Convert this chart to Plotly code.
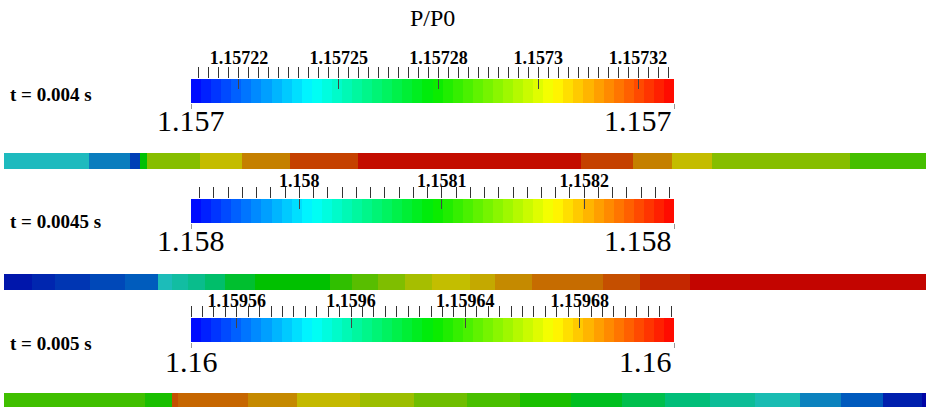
import numpy as np
import plotly.graph_objects as go

W, H = 926, 407

# ---- P/P0 legend for each instant -------------------------------------------
times = ["t = 0.004 s", "t = 0.0045 s", "t = 0.005 s"]
cb_min = [1.157208, 1.157924, 1.159544]
cb_max = [1.157329, 1.158263, 1.159713]
end_labels = ["1.157", "1.158", "1.16"]
major_vals = [
    [1.15722, 1.157245, 1.15727, 1.157295, 1.15732],
    [1.1580, 1.1581, 1.1582],
    [1.15956, 1.15960, 1.15964, 1.15968],
]
major_text = [
    ["1.15722", "1.15725", "1.15728", "1.1573", "1.15732"],
    ["1.158", "1.1581", "1.1582"],
    ["1.15956", "1.1596", "1.15964", "1.15968"],
]
minor_step = [2.5e-6, 1.0e-5, 4.0e-6]
n_bands = 48

# ---- P/P0 contour bands along the duct (x/L) --------------------------------
strip_a_x = [0, 0.0922, 0.1367, 0.1475, 0.1551, 0.2126, 0.2581, 0.3102, 0.3839,
             0.6258, 0.6822, 0.7245, 0.7679, 0.9176, 1.0]
strip_a_p = [1.157238, 1.157228, 1.157218, 1.157268, 1.157289, 1.157299, 1.157309,
             1.157319, 1.157327, 1.157319, 1.157309, 1.157299, 1.157289, 1.157279]

strip_b_x = [0, 0.0304, 0.0553, 0.0933, 0.1312, 0.1670, 0.1822, 0.1996, 0.2180,
             0.2397, 0.2722, 0.3536, 0.3774, 0.4056, 0.4349, 0.4642, 0.5054,
             0.5325, 0.5727, 0.6497, 0.6898, 0.7440, 1.0]
strip_b_p = [1.157934, 1.157941, 1.157948, 1.157956, 1.157965, 1.158012, 1.158026,
             1.158039, 1.158056, 1.158077, 1.158094, 1.158114, 1.158131, 1.158148,
             1.158165, 1.158178, 1.158188, 1.158202, 1.158216, 1.158229, 1.158246,
             1.158261]

strip_c_x = [0, 0.1529, 0.1822, 0.1887, 0.2646, 0.3178, 0.3861, 0.4447, 0.5022,
             0.5597, 0.6150, 0.6703, 0.7169, 0.7657, 0.8145, 0.8633, 0.9078,
             0.9534, 0.9957, 1.0]
strip_c_p = [1.159642, 1.159634, 1.159696, 1.159691, 1.159683, 1.159672, 1.159662,
             1.159652, 1.159644, 1.159634, 1.159623, 1.159615, 1.159607, 1.159598,
             1.159590, 1.159573, 1.159564, 1.159551, 1.159545]

strips = [(strip_a_x, strip_a_p), (strip_b_x, strip_b_p), (strip_c_x, strip_c_p)]

rainbow = [[0.0, "rgb(0,0,255)"], [0.25, "rgb(0,255,255)"], [0.5, "rgb(0,235,0)"],
           [0.75, "rgb(255,255,0)"], [1.0, "rgb(255,0,0)"]]
shaded = [[0.0, "rgb(0,0,165)"], [0.125, "rgb(0,95,190)"], [0.25, "rgb(30,188,190)"],
          [0.375, "rgb(0,190,120)"], [0.5, "rgb(0,192,0)"], [0.625, "rgb(100,190,0)"],
          [0.75, "rgb(196,190,0)"], [0.875, "rgb(198,98,0)"], [1.0, "rgb(195,0,0)"]]

SERIF = "Liberation Serif"

# pixel layout helpers
def px(x):
    return x / W

def py(y):
    return 1 - y / H

bar_left, bar_right = 191, 674
bar_top = [79, 199, 318]
bar_h = 24
standoff = [10, 7, 6]
strip_top = [153, 274, 393]
strip_bot = [169, 290, 407]
label_y = [94, 222, 343]
end_y = [120, 241, 361]

fig = go.Figure()
layout = {}
annotations = []

for i in range(3):
    xa, xm, xe = 3 * i + 1, 3 * i + 2, 3 * i + 3
    ya = 2 * i + 1
    lo, hi = cb_min[i], cb_max[i]
    edges = np.linspace(lo, hi, n_bands + 1)
    mids = 0.5 * (edges[:-1] + edges[1:])

    fig.add_trace(go.Heatmap(
        x=edges, y=[0, 1], z=[mids], zmin=lo, zmax=hi, colorscale=rainbow,
        showscale=False, hoverinfo="skip", xaxis=f"x{xa}", yaxis=f"y{ya}"))
    for extra in (xm, xe):
        fig.add_trace(go.Scatter(x=[], y=[], xaxis=f"x{extra}", yaxis=f"y{ya}",
                                 showlegend=False, hoverinfo="skip"))

    layout[f"xaxis{xa}"] = dict(
        domain=[px(bar_left), px(bar_right)], range=[lo, hi], anchor=f"y{ya}",
        side="top", tickmode="array", tickvals=major_vals[i], ticktext=major_text[i],
        ticks="inside", ticklen=10, tickwidth=1, tickcolor="#444",
        ticklabelstandoff=standoff[i],
        tickfont=dict(family=SERIF, size=18, color="black", weight="bold"),
        showgrid=False, zeroline=False, showline=False, fixedrange=True)
    first_minor = major_vals[i][0] - minor_step[i] * np.floor((major_vals[i][0] - lo) / minor_step[i])
    layout[f"xaxis{xm}"] = dict(
        overlaying=f"x{xa}", anchor=f"y{ya}", side="top", range=[lo, hi],
        tickmode="linear", tick0=first_minor, dtick=minor_step[i],
        ticks="outside", ticklen=11, tickwidth=1, tickcolor="#333",
        showticklabels=False, showgrid=False, zeroline=False, showline=False)
    layout[f"xaxis{xe}"] = dict(
        overlaying=f"x{xa}", anchor=f"y{ya}", side="bottom", range=[lo, hi],
        tickmode="array", tickvals=[lo, hi], ticks="outside", ticklen=5,
        tickwidth=1, tickcolor="#999", showticklabels=False,
        showgrid=False, zeroline=False, showline=False)
    layout[f"yaxis{ya}"] = dict(
        domain=[py(bar_top[i] + bar_h), py(bar_top[i])], range=[0, 1],
        anchor=f"x{xa}", visible=False, fixedrange=True)

    # strip of P/P0 contour bands
    xs = 10 + i
    ys = 2 * i + 2
    sx, sp = strips[i]
    fig.add_trace(go.Heatmap(
        x=sx, y=[0, 1], z=[sp], zmin=lo, zmax=hi, colorscale=shaded,
        showscale=False, hoverinfo="skip", xaxis=f"x{xs}", yaxis=f"y{ys}"))
    layout[f"xaxis{xs}"] = dict(domain=[px(4), 1], range=[0, 1], anchor=f"y{ys}",
                                visible=False, fixedrange=True)
    layout[f"yaxis{ys}"] = dict(domain=[py(strip_bot[i]), py(strip_top[i])],
                                range=[0, 1], anchor=f"x{xs}", visible=False,
                                fixedrange=True)

    # time label and legend end values
    annotations.append(dict(
        text=times[i], x=px(8), y=py(label_y[i]), xref="paper", yref="paper",
        xanchor="left", yanchor="middle", showarrow=False,
        font=dict(family=SERIF, size=19, color="black", weight="bold")))
    annotations.append(dict(
        text=end_labels[i], x=lo, y=py(end_y[i]), xref=f"x{xa}", yref="paper",
        xanchor="center", yanchor="middle", showarrow=False,
        font=dict(family=SERIF, size=30, color="black")))
    annotations.append(dict(
        text=end_labels[i], x=hi, y=py(end_y[i]), xref=f"x{xa}", yref="paper",
        xanchor="right", yanchor="middle", showarrow=False,
        font=dict(family=SERIF, size=30, color="black")))

annotations.append(dict(
    text="P/P0", x=px(432), y=py(18), xref="paper", yref="paper",
    xanchor="center", yanchor="middle", showarrow=False,
    font=dict(family=SERIF, size=24, color="black")))

fig.update_layout(
    width=W, height=H, margin=dict(l=0, r=0, t=0, b=0),
    paper_bgcolor="white", plot_bgcolor="white", showlegend=False,
    annotations=annotations, **layout)

fig.write_html("out.html")
